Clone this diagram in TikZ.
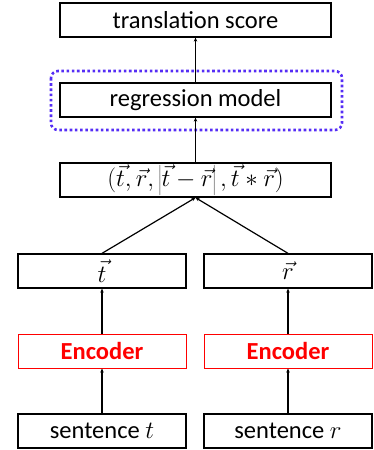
\documentclass[tikz,border=0pt]{standalone}
\usepackage{fontspec}
\setmainfont{Carlito}
\usetikzlibrary{arrows.meta}
\definecolor{dotblue}{RGB}{85,45,245}
\definecolor{encred}{RGB}{255,0,0}
\begin{document}
\begin{tikzpicture}[x=1pt,y=-1pt,
  box/.style={draw=black,line width=1.3pt,minimum height=34pt,inner sep=0pt,font=\fontsize{24.5}{28}\selectfont},
  wide/.style={box,minimum width=271pt},
  half/.style={box,minimum width=168pt},
  enc/.style={half,draw=encred,line width=1pt,text=encred,font=\fontsize{24.5}{28}\selectfont\bfseries},
  arr/.style={line width=1.2pt,-{Stealth[length=4pt,width=3.5pt]}},
  grp/.style={draw=dotblue,line width=2.6pt,dash pattern=on 2.6pt off 2.6pt,rounded corners=7pt}
]
\useasboundingbox (0,0) rectangle (373,450);
\node[wide] (score) at (195.5,20) {translation score};
\node[wide] (reg) at (195.5,100) {regression model};
\node[wide] (tuple) at (195.5,180) {$(\vec{t},\vec{r},\left|\vec{t}-\vec{r}\right|,\vec{t}\ast\vec{r})$};
\node[half] (tvec) at (102,271) {$\vec{t}$};
\node[half] (rvec) at (288,271) {$\vec{r}$};
\node[enc] (enct) at (102,351) {Encoder};
\node[enc] (encr) at (288,351) {Encoder};
\node[half] (sent) at (102,431) {sentence $t$};
\node[half] (senr) at (288,431) {sentence $r$};
\draw[grp] (51,71) rectangle (342,130);
\draw[arr] (reg) -- (score);
\draw[arr] (tuple) -- (reg);
\draw[arr] (tvec.north) -- (tuple.south);
\draw[arr] (rvec.north) -- (tuple.south);
\draw[arr] (enct) -- (tvec);
\draw[arr] (encr) -- (rvec);
\draw[arr] (sent) -- (enct);
\draw[arr] (senr) -- (encr);
\end{tikzpicture}
\end{document}
